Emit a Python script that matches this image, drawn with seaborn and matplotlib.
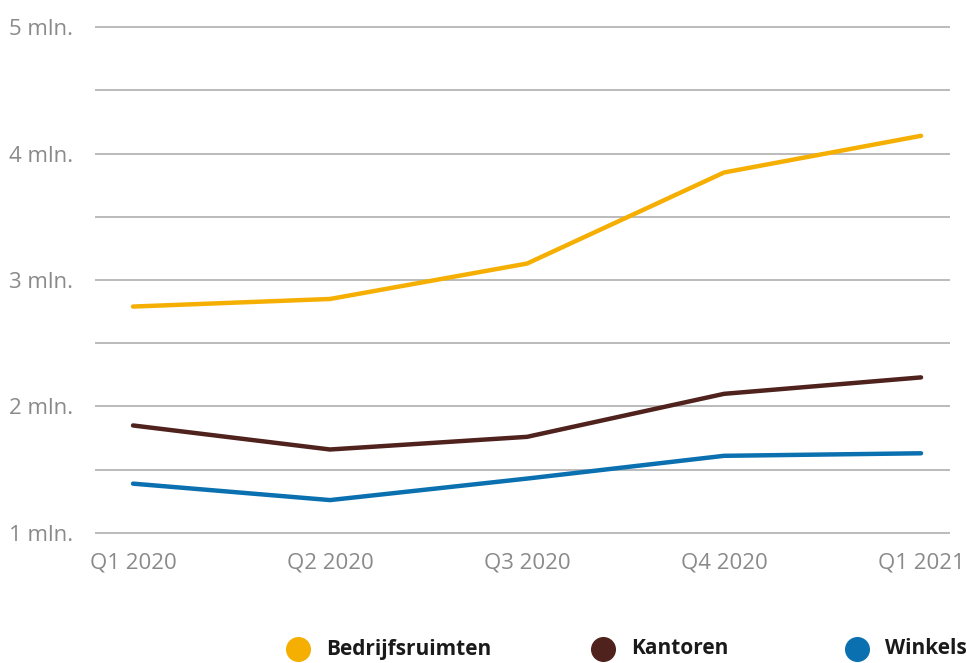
import pandas as pd
import matplotlib.pyplot as plt
import seaborn as sns
from matplotlib.lines import Line2D

# Data (values in millions)
quarters = ['Q1 2020', 'Q2 2020', 'Q3 2020', 'Q4 2020', 'Q1 2021']
bedrijfsruimten = [2.79, 2.85, 3.13, 3.85, 4.14]
kantoren = [1.85, 1.66, 1.76, 2.10, 2.23]
winkels = [1.39, 1.26, 1.43, 1.61, 1.63]

series_names = ['Bedrijfsruimten', 'Kantoren', 'Winkels']
colors = ['#F5AF02', '#4F221D', '#0A70B0']
y_ticks = [1, 2, 3, 4, 5]
y_labels = ['1 mln.', '2 mln.', '3 mln.', '4 mln.', '5 mln.']

data = pd.DataFrame({
    'kwartaal': quarters * 3,
    'waarde': bedrijfsruimten + kantoren + winkels,
    'type': sum([[n] * len(quarters) for n in series_names], []),
})

sns.set_style('white')
plt.rcParams['font.family'] = ['Open Sans', 'DejaVu Sans']

fig = plt.figure(figsize=(9.67, 6.63), dpi=100)
ax = fig.add_axes([95 / 967, 1 - 535.5 / 663, 855 / 967, 511 / 663])

sns.lineplot(data=data, x='kwartaal', y='waarde', hue='type', palette=colors,
             linewidth=3.2, sort=False, legend=False, ax=ax)

ax.set_xlim(-0.193, 4.147)
ax.set_ylim(0.98, 5.02)
ax.set_yticks([1, 1.5, 2, 2.5, 3, 3.5, 4, 4.5, 5])
ax.set_yticklabels([y_labels[y_ticks.index(t)] if t in y_ticks else '' for t in ax.get_yticks()])
ax.grid(axis='y', color='#A8A8A8', linewidth=1.1)
ax.grid(axis='x', visible=False)
ax.set_axisbelow(True)
for s in ax.spines.values():
    s.set_visible(False)
ax.tick_params(axis='both', length=0, colors='#8A8A8A', labelsize=16)
ax.tick_params(axis='y', pad=16)
ax.tick_params(axis='x', pad=12)
ax.set_xlabel('')
ax.set_ylabel('')

# legend at the bottom: coloured dots with bold labels
legend_x = [298, 603, 857]
legend_y = 1 - 649 / 663
for name, c, px in zip(series_names, colors, legend_x):
    fig.add_artist(Line2D([px / 967], [legend_y], transform=fig.transFigure, marker='o',
                          markersize=17, color=c, linestyle='none'))
    fig.text((px + 28) / 967, legend_y, name, ha='left', va='center',
             fontsize=15, fontweight='bold', color='#1A1A1A')

fig.savefig('out.png', dpi=100)
